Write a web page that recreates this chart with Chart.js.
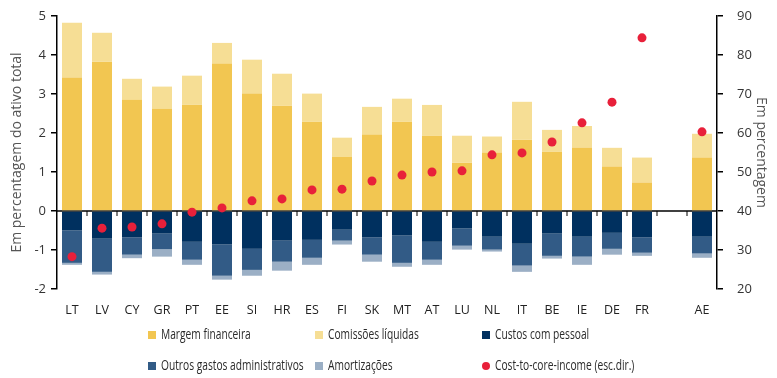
<!DOCTYPE html>
<html>
<head>
<meta charset="utf-8">
<script src="https://cdn.jsdelivr.net/npm/chart.js@4.4.1/dist/chart.umd.min.js"></script>
<style>
  body { margin: 0; background: #fff; }
  #wrap { position: relative; width: 777px; height: 378px; }
  .leg { position: absolute; font-family: 'Open Sans', sans-serif; font-size: 14px; color: #2a2a2a; white-space: nowrap; line-height: 16px; }
  .leg i { display: inline-block; width: 8px; height: 8px; margin-right: 5px; vertical-align: 0px; }
  .leg i.dot { width: 8px; height: 8px; border-radius: 50%; }
  .leg span { display: inline-block; transform: scaleX(0.73); transform-origin: left center; }
</style>
</head>
<body>
<div id="wrap">
  <canvas id="chart" width="777" height="378"></canvas>
</div>
<script>
const labels = ['LT', 'LV', 'CY', 'GR', 'PT', 'EE', 'SI', 'HR', 'ES', 'FI', 'SK', 'MT', 'AT', 'LU', 'NL', 'IT', 'BE', 'IE', 'DE', 'FR', '', 'AE'];

const margemFinanceira = [3.42, 3.83, 2.85, 2.62, 2.72, 3.78, 3.01, 2.70, 2.29, 1.39, 1.96, 2.29, 1.93, 1.24, 1.50, 1.83, 1.52, 1.63, 1.14, 0.73, null, 1.37];
const comissoesLiquidas = [1.41, 0.74, 0.54, 0.57, 0.75, 0.53, 0.87, 0.82, 0.72, 0.49, 0.71, 0.59, 0.79, 0.69, 0.41, 0.97, 0.56, 0.55, 0.48, 0.64, null, 0.61];
const custosPessoal = [-0.50, -0.71, -0.68, -0.58, -0.79, -0.86, -0.97, -0.76, -0.74, -0.48, -0.68, -0.63, -0.79, -0.45, -0.66, -0.84, -0.58, -0.66, -0.56, -0.68, null, -0.66];
const outrosGastos = [-0.83, -0.85, -0.44, -0.40, -0.46, -0.80, -0.54, -0.54, -0.46, -0.28, -0.44, -0.70, -0.46, -0.44, -0.33, -0.56, -0.57, -0.51, -0.41, -0.39, null, -0.43];
const amortizacoes = [-0.05, -0.07, -0.09, -0.19, -0.13, -0.10, -0.15, -0.23, -0.18, -0.10, -0.18, -0.10, -0.13, -0.10, -0.05, -0.16, -0.07, -0.21, -0.15, -0.08, null, -0.11];
const costToCore = [28.3, 35.6, 35.9, 36.7, 39.7, 40.8, 42.6, 43.1, 45.4, 45.6, 47.7, 49.2, 50.0, 50.3, 54.4, 54.9, 57.7, 62.6, 67.9, 84.4, null, 60.3];

const leftTicks = [-2, -1, 0, 1, 2, 3, 4, 5];
const rightTicks = [20, 30, 40, 50, 60, 70, 80, 90];

const colors = {
  margem: '#F2C651',
  comissoes: '#F6DE95',
  custos: '#00305F',
  outros: '#325B86',
  amort: '#9BAFC5',
  dot: '#E8203A'
};

const legendItems = [
  { text: 'Margem financeira', color: colors.margem, left: 148, top: 326 },
  { text: 'Comissões líquidas', color: colors.comissoes, left: 315, top: 326 },
  { text: 'Custos com pessoal', color: colors.custos, left: 482, top: 326 },
  { text: 'Outros gastos administrativos', color: colors.outros, left: 148, top: 357 },
  { text: 'Amortizações', color: colors.amort, left: 315, top: 357 },
  { text: 'Cost-to-core-income (esc.dir.)', color: colors.dot, left: 482, top: 357, dot: true }
];

const wrap = document.getElementById('wrap');
legendItems.forEach(item => {
  const d = document.createElement('div');
  d.className = 'leg';
  d.style.left = item.left + 'px';
  d.style.top = item.top + 'px';
  d.innerHTML = '<i class="' + (item.dot ? 'dot' : '') + '" style="background:' + item.color + '"></i><span>' + item.text + '</span>';
  wrap.appendChild(d);
});

// zero line with small ticks between categories
const zeroLine = {
  id: 'zeroLine',
  afterDatasetDraw(chart, args) {
    if (args.index !== 4) return;
    const ctx = chart.ctx;
    const x = chart.scales.x;
    const y0 = chart.scales.y.getPixelForValue(0);
    ctx.save();
    ctx.strokeStyle = '#7f7f7f';
    ctx.lineWidth = 2;
    for (let i = 1; i < labels.length; i++) {
      const bx = (x.getPixelForValue(i - 1) + x.getPixelForValue(i)) / 2;
      ctx.beginPath();
      ctx.moveTo(bx, y0);
      ctx.lineTo(bx, y0 + 5);
      ctx.stroke();
    }
    ctx.strokeStyle = '#000';
    ctx.lineWidth = 1.5;
    ctx.beginPath();
    ctx.moveTo(chart.chartArea.left, y0);
    ctx.lineTo(chart.chartArea.right, y0);
    ctx.stroke();
    ctx.restore();
  }
};

const barOpts = { categoryPercentage: 1, barPercentage: 0.667, order: 1, stack: 's' };

new Chart(document.getElementById('chart'), {
  type: 'bar',
  data: {
    labels: labels,
    datasets: [
      { label: 'Margem financeira', data: margemFinanceira, backgroundColor: colors.margem, ...barOpts },
      { label: 'Comissões líquidas', data: comissoesLiquidas, backgroundColor: colors.comissoes, ...barOpts },
      { label: 'Custos com pessoal', data: custosPessoal, backgroundColor: colors.custos, ...barOpts },
      { label: 'Outros gastos administrativos', data: outrosGastos, backgroundColor: colors.outros, ...barOpts },
      { label: 'Amortizações', data: amortizacoes, backgroundColor: colors.amort, ...barOpts },
      {
        type: 'line',
        label: 'Cost-to-core-income (esc.dir.)',
        data: costToCore,
        yAxisID: 'y2',
        showLine: false,
        pointRadius: 4.5,
        pointBorderWidth: 0,
        pointBackgroundColor: colors.dot,
        backgroundColor: colors.dot,
        order: 0
      }
    ]
  },
  options: {
    responsive: false,
    animation: false,
    layout: { padding: { top: 16, bottom: 60, left: 0, right: 0 } },
    plugins: {
      legend: { display: false },
      tooltip: { enabled: false }
    },
    scales: {
      x: {
        stacked: true,
        grid: { display: false, drawTicks: false },
        border: { display: false },
        ticks: { color: '#222', padding: 14, font: { family: 'Open Sans', size: 12.5 }, maxRotation: 0, autoSkip: false },
        afterFit: s => { s.height = 29; s.paddingLeft = 0; s.paddingRight = 0; }
      },
      y: {
        stacked: true,
        position: 'left',
        min: -2,
        max: 5,
        afterBuildTicks: s => { s.ticks = leftTicks.map(v => ({ value: v })); },
        grid: { drawOnChartArea: false, drawTicks: true, tickLength: 6, tickColor: '#000', lineWidth: 1.5 },
        border: { display: true, color: '#000', width: 1.5 },
        ticks: { color: '#333', padding: 5, font: { family: 'Open Sans', size: 13 } },
        title: { display: true, text: 'Em percentagem do ativo total', color: '#555', padding: { top: 9, bottom: 0 }, font: { family: 'Open Sans', size: 14 } },
        afterFit: s => { s.width = 57; s.paddingTop = 0; s.paddingBottom = 0; }
      },
      y2: {
        position: 'right',
        min: 20,
        max: 90,
        afterBuildTicks: s => { s.ticks = rightTicks.map(v => ({ value: v })); },
        grid: { drawOnChartArea: false, drawTicks: true, tickLength: 6, tickColor: '#000', lineWidth: 1.5 },
        border: { display: true, color: '#000', width: 1.5 },
        ticks: { color: '#333', padding: 14, font: { family: 'Open Sans', size: 13 } },
        title: { display: true, text: 'Em percentagem', color: '#555', padding: { top: 8, bottom: 0 }, font: { family: 'Open Sans', size: 14 } },
        afterFit: s => { s.width = 60; s.paddingTop = 0; s.paddingBottom = 0; }
      }
    }
  },
  plugins: [zeroLine]
});
</script>
</body>
</html>
